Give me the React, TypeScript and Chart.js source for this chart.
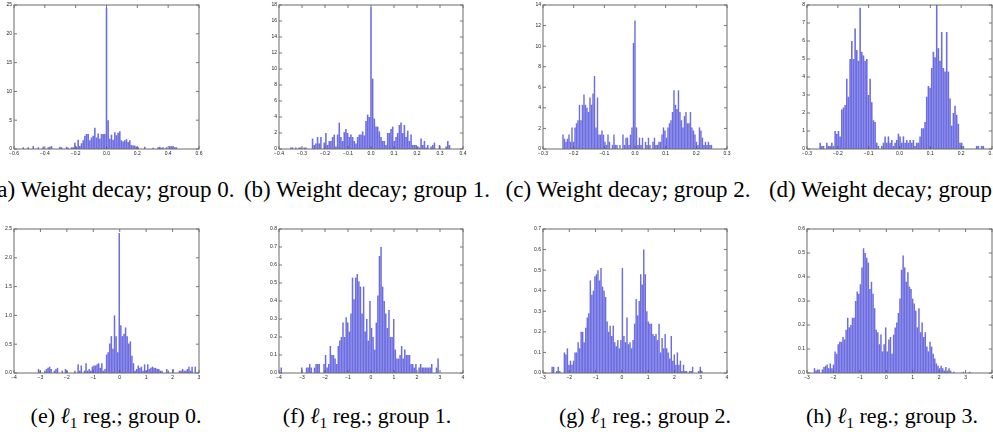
import React, { useEffect, useRef } from "react";
import { Chart, registerables } from "chart.js";
Chart.register(...registerables);

// ---------- data (histogram bin counts, first bin centre and bin width) ----------
const A_START = -0.54;
const A_STEP = 0.0108;
const A_COUNTS = [0.3,0,0,0.3,0,0,0.5,0,0,0.3,0,0,0.4,0,0,0.3,0.4,0.5,0,0,0,0,0.4,0.3,0,0,0.4,0.2,0,0.3,0.3,1.1,0.4,1.6,0.5,1.0,1.5,2.3,2.6,2.6,1.5,2.0,2.3,3.7,2.0,2.7,1.8,2.6,2.6,2.6,24.5,5.0,1.8,2.5,1.6,2.9,2.4,2.8,3.1,1.5,1.3,1.5,1.7,1.2,1.5,0.7,0.6,0.6,0.4,0.3,0,0,0,0.4,0,0,0,0,0.2,0,0,0.3,0.4,0.2,0.3,0,0.3,0,0.5,0.5,0.5,0.3,0.3];

const B_START = -0.3485;
const B_STEP = 0.00726;
const B_COUNTS = [0.2,0.2,0,0.2,0,0.2,0.2,0,0.2,0.2,0,0,0,1.3,0.5,0.7,1.5,0.7,1.5,0,0.8,2.0,0.5,1.0,1.0,1.5,1.8,0.3,1.8,3.3,1.5,1.0,2.1,2.5,2.0,1.5,1.8,1.5,1.0,0.7,1.5,1.8,1.8,2.2,1.7,3.5,4.3,4.0,17.7,8.8,3.8,2.8,2.8,2.2,1.5,1.0,1.0,0.5,2.0,2.0,2.5,2.8,1.0,1.5,2.0,3.0,3.3,2.0,3.0,1.5,2.3,1.0,1.8,0.5,0.5,0.5,0.3,0.2,1.3,0.5,1.0,0.2,0.5,0,0.3,0.5,0.8,0,0,0.5,0,0,0,0.3,1.0,0.5,0];

const C_START = -0.2348;
const C_STEP = 0.00489;
const C_COUNTS = [1.4,1.0,0.7,1.0,1.4,0.7,2.1,0.7,2.1,2.5,2.8,4.3,2.8,4.3,5.3,4.3,4.0,3.6,5.0,4.3,5.4,7.1,2.1,5.0,1.4,1.4,1.8,1.4,0.7,0.4,1.4,0.7,0,0.4,1.4,0.4,0.4,0,0.4,0,1.4,0.4,1.1,1.1,0.4,1.4,2.1,10.3,12.5,2.1,0.4,1.1,0.4,1.1,0,0.7,0.4,1.1,0.4,0,0.7,1.1,0.4,0.4,0.7,0.7,1.4,2.1,1.8,1.1,2.1,2.5,2.8,3.6,5.7,4.3,3.9,5.7,3.6,2.8,2.1,3.2,3.6,2.5,2.5,3.6,2.1,1.8,1.4,0.7,0.4,2.1,1.8,1.1,0.4,0.7,0.4,0.7,0.4,0.4];

const D_START = -0.2573;
const D_STEP = 0.0054;
const D_COUNTS = [0.35,0.17,0.17,0,0.35,0.17,0.17,0.35,0.17,1.0,0.85,1.0,0.7,2.2,2.3,2.45,3.9,2.9,5.0,6.0,5.0,6.7,5.5,4.9,7.85,5.4,5.2,4.9,5.0,3.0,3.9,2.6,1.6,1.5,0.35,0.17,0,0.17,0.35,0.7,0.35,0.7,0.35,0.5,0.17,0.35,0.5,0.85,0.7,0.35,0.7,0.35,0.5,0.35,0.5,0.35,0.5,0.17,0.35,0.35,0.7,1.15,1.15,1.5,2.9,3.5,3.4,4.5,5.4,5.1,8.0,5.6,4.9,6.5,4.5,4.3,6.5,4.3,2.8,1.3,2.0,2.4,1.9,1.4,0.35,0.35,0.17,0,0,0,0,0,0,0,0.17,0.17,0,0.17,0.17];

const E_START = -3.072;
const E_STEP = 0.0599;
const E_COUNTS = [0.07,0.04,0,0,0.04,0.07,0.09,0.11,0.07,0,0.04,0.07,0.09,0,0,0.04,0,0.07,0.04,0,0,0,0,0.04,0,0.15,0.04,0.13,0,0.04,0.17,0.04,0.07,0.04,0.11,0.13,0.13,0.15,0.17,0.09,0.17,0.04,0.07,0.32,0.36,0.51,0.64,0.42,1.0,0.64,0.36,2.43,0.83,0.64,0.68,0.79,0.64,0.51,0.55,0.30,0.17,0.04,0.07,0.13,0.09,0.11,0.04,0.15,0.04,0.15,0.07,0.09,0.11,0.09,0.09,0.07,0.07,0.04,0.04,0,0,0.07,0.04,0,0,0.07,0,0,0,0.04,0.04,0.07,0.04,0.04,0.07,0.11,0.04,0.11,0,0.11];

const F_START = -3.904;
const F_STEP = 0.0689;
const F_COUNTS = [0.03,0,0,0,0,0,0,0,0,0,0,0,0,0.03,0,0,0.03,0.03,0.05,0.03,0,0.03,0.05,0.05,0.05,0,0,0.05,0.10,0.03,0.05,0.15,0.10,0.10,0.08,0.05,0.15,0.18,0.20,0.28,0.20,0.31,0.28,0.23,0.33,0.53,0.41,0.53,0.55,0.51,0.48,0.33,0.48,0.23,0.30,0.18,0.40,0.25,0.20,0.13,0.28,0.43,0.65,0.70,0.48,0.40,0.33,0.25,0.35,0.20,0.20,0.30,0.13,0.08,0.08,0.10,0.15,0.08,0.13,0.10,0.10,0.10,0.05,0.05,0.03,0.05,0,0.03,0.05,0.03,0.03,0.03,0.03,0.03,0.03,0.05,0,0,0.03,0.08];

const G_START = -2.652;
const G_STEP = 0.0581;
const G_COUNTS = [0.03,0.03,0,0.01,0.03,0.01,0,0,0.10,0.09,0.12,0.04,0.06,0.04,0.06,0.10,0.10,0.15,0.12,0.20,0.20,0.15,0.22,0.27,0.29,0.45,0.38,0.40,0.47,0.48,0.50,0.45,0.51,0.42,0.40,0.37,0.25,0.20,0.23,0.18,0.23,0.15,0.13,0.16,0.12,0.16,0.51,0.18,0.15,0.27,0.14,0.15,0.12,0.16,0.24,0.36,0.28,0.35,0.48,0.43,0.60,0.48,0.30,0.25,0.24,0.24,0.19,0.18,0.19,0.16,0.24,0.10,0.17,0.12,0.19,0.12,0.10,0.07,0.18,0.06,0.09,0.04,0.10,0.04,0.06,0.01,0.04,0.01,0.01,0,0.01,0.01,0.03,0,0,0,0.01,0.03,0.01];

const H_START = -2.717;
const H_STEP = 0.0599;
const H_COUNTS = [0.02,0.01,0.015,0.015,0,0.015,0.025,0.03,0.035,0.02,0.04,0.02,0.035,0.09,0.08,0.12,0.13,0.13,0.15,0.14,0.18,0.23,0.19,0.20,0.23,0.23,0.30,0.34,0.33,0.37,0.44,0.52,0.50,0.48,0.46,0.35,0.38,0.33,0.27,0.18,0.17,0.12,0.16,0.09,0.12,0.19,0.09,0.14,0.15,0.08,0.16,0.19,0.21,0.25,0.31,0.43,0.49,0.44,0.38,0.42,0.36,0.35,0.31,0.29,0.26,0.19,0.27,0.17,0.21,0.15,0.17,0.11,0.09,0.13,0.11,0.08,0.06,0.04,0.03,0.02,0.03,0.02,0.01,0.025,0.01,0.02,0.01,0,0.005,0,0,0,0,0,0.005,0,0,0,0.005];

// axis ranges / tick steps
const X_AXES = [
  [-0.6, 0.6, 0.2, 1], [-0.4, 0.4, 0.1, 1], [-0.3, 0.3, 0.1, 1], [-0.3, 0.3, 0.1, 1],
  [-4, 3, 1, 0], [-4, 4, 1, 0], [-3, 4, 1, 0], [-3, 4, 1, 0],
];
const Y_AXES = [
  [25, 5, 0], [18, 2, 0], [14, 2, 0], [8, 1, 0],
  [2.5, 0.5, 1], [0.8, 0.1, 1], [0.7, 0.1, 1], [0.6, 0.1, 1],
];

const SERIES = [
  [A_START, A_STEP, A_COUNTS], [B_START, B_STEP, B_COUNTS], [C_START, C_STEP, C_COUNTS], [D_START, D_STEP, D_COUNTS],
  [E_START, E_STEP, E_COUNTS], [F_START, F_STEP, F_COUNTS], [G_START, G_STEP, G_COUNTS], [H_START, H_STEP, H_COUNTS],
];

// layout (plot boxes in page pixels)
const BOXES = [
  [14, 5, 199, 149], [279, 5, 463, 149], [543, 5, 727, 149], [807, 5, 992, 149],
  [14, 229, 199, 373], [279, 229, 463, 373], [543, 229, 727, 373], [807, 229, 992, 373],
];

const TOP_CAPTIONS = ["(a)", "(b)", "(c)", "(d)"];
const TOP_CENTERS = [112, 367, 628, 892];
const BOTTOM_CAPTIONS = ["(e)", "(f)", "(g)", "(h)"];
const BOTTOM_CENTERS = [116, 367, 645, 892];

const YW = 22;
const XH = 12;
const PT = 5;
const PR = 10;

const SERIF =
  '"Liberation Serif", Tinos, "DejaVu Serif", "Noto Serif", FreeSerif, "Nimbus Roman", "Nimbus Roman No9 L", "Times New Roman", Times, serif';

const fmt = (v: number, dec: number) => {
  const r = Math.abs(v) < 1e-9 ? 0 : v;
  const s = r.toFixed(dec);
  return s.startsWith("-") ? "\u2212" + s.slice(1) : s;
};

const framePlugin = {
  id: "frameTicks",
  afterDraw(chart: any) {
    const { ctx, chartArea: a, scales } = chart;
    ctx.save();
    ctx.strokeStyle = "#555";
    ctx.lineWidth = 0.8;
    const tl = 3;
    ctx.beginPath();
    for (const t of scales.x.ticks) {
      const px = scales.x.getPixelForValue(t.value);
      ctx.moveTo(px, a.bottom);
      ctx.lineTo(px, a.bottom - tl);
      ctx.moveTo(px, a.top);
      ctx.lineTo(px, a.top + tl);
    }
    for (const t of scales.y.ticks) {
      const py = scales.y.getPixelForValue(t.value);
      ctx.moveTo(a.left, py);
      ctx.lineTo(a.left + tl, py);
      ctx.moveTo(a.right, py);
      ctx.lineTo(a.right - tl, py);
    }
    ctx.stroke();
    ctx.strokeStyle = "#6a6a6a";
    ctx.lineWidth = 1;
    ctx.strokeRect(a.left, a.top, a.right - a.left, a.bottom - a.top);
    ctx.restore();
  },
};

function Hist({ idx }: { idx: number }) {
  const ref = useRef<HTMLCanvasElement | null>(null);
  const [L, T, R, B] = BOXES[idx];
  const w = R - L + YW + PR;
  const h = B - T + PT + XH;
  useEffect(() => {
    const [start, step, counts] = SERIES[idx] as [number, number, number[]];
    const [xMin, xMax, xStep, xDec] = X_AXES[idx];
    const [yMax, yStep, yDec] = Y_AXES[idx];
    const data = counts.map((c, i) => ({ x: start + i * step, y: c }));
    const tickFont = { size: 5, family: "'Liberation Sans', Arial, sans-serif" };
    const chart = new Chart(ref.current as HTMLCanvasElement, {
      type: "bar",
      data: {
        datasets: [
          {
            data: data as any,
            backgroundColor: "rgba(40,40,212,0.68)",
            borderWidth: 0,
            barPercentage: 0.95,
            categoryPercentage: 1,
          },
        ],
      },
      options: {
        animation: false,
        responsive: false,
        maintainAspectRatio: false,
        layout: { padding: { top: PT, right: PR, left: 0, bottom: 0 } },
        plugins: { legend: { display: false }, tooltip: { enabled: false } },
        scales: {
          x: {
            type: "linear",
            min: xMin,
            max: xMax,
            offset: false,
            grid: { display: false, drawTicks: false, tickLength: 0 },
            border: { display: false },
            ticks: {
              stepSize: xStep,
              autoSkip: false,
              maxRotation: 0,
              padding: 2,
              font: tickFont,
              color: "#222",
              callback: (v: any) => fmt(Number(v), xDec),
            },
            afterFit: (s: any) => {
              s.height = XH;
            },
          },
          y: {
            min: 0,
            max: yMax,
            grid: { display: false, drawTicks: false, tickLength: 0 },
            border: { display: false },
            ticks: {
              stepSize: yStep,
              padding: 2,
              font: tickFont,
              color: "#222",
              callback: (v: any) => fmt(Number(v), yDec),
            },
            afterFit: (s: any) => {
              s.width = YW;
            },
          },
        },
      },
      plugins: [framePlugin],
    });
    return () => chart.destroy();
  }, [idx]);
  return (
    <canvas
      ref={ref}
      width={w}
      height={h}
      style={{ position: "absolute", left: L - YW, top: T - PT, width: w, height: h }}
    />
  );
}

const capStyle = (cx: number, top: number, size: number): React.CSSProperties => ({
  position: "absolute",
  left: cx,
  top,
  transform: "translateX(-50%)",
  whiteSpace: "nowrap",
  fontFamily: SERIF,
  fontSize: size,
  lineHeight: `${size}px`,
  color: "#000",
});

export default function App() {
  return (
    <div
      style={{
        position: "fixed",
        left: 0,
        top: 0,
        width: 993,
        height: 432,
        overflow: "hidden",
        background: "#fff",
      }}
    >
      {BOXES.map((_, i) => (
        <Hist key={i} idx={i} />
      ))}
      {TOP_CAPTIONS.map((c, i) => (
        <div key={"t" + i} style={capStyle(TOP_CENTERS[i], 178, 23)}>
          {c} Weight decay; group {i}.
        </div>
      ))}
      {BOTTOM_CAPTIONS.map((c, i) => (
        <div key={"b" + i} style={capStyle(BOTTOM_CENTERS[i], 405, 22)}>
          {c} <span style={{ fontStyle: "italic" }}>ℓ</span>
          <span style={{ fontSize: "0.7em", position: "relative", top: "0.3em" }}>1</span> reg.; group {i}.
        </div>
      ))}
    </div>
  );
}
